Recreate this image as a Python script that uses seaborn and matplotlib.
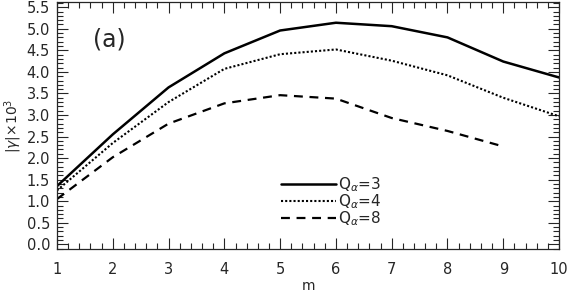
import pandas as pd
import matplotlib
matplotlib.use("Agg")
import matplotlib.pyplot as plt
from matplotlib.ticker import MultipleLocator
import seaborn as sns

# growth rate |gamma| x 10^3 against mode number m
m_vals = [1, 2, 3, 4, 5, 6, 7, 8, 9, 10]
gamma_q3 = [1.35, 2.55, 3.64, 4.43, 4.96, 5.14, 5.06, 4.80, 4.24, 3.87]
gamma_q4 = [1.25, 2.35, 3.30, 4.07, 4.41, 4.52, 4.26, 3.92, 3.40, 2.97]
gamma_q8 = [1.05, 2.02, 2.80, 3.27, 3.46, 3.38, 2.93, 2.63, 2.27]
series_labels = [r"Q$_\alpha$=3", r"Q$_\alpha$=4", r"Q$_\alpha$=8"]

sns.set_style("ticks")
plt.rcParams["font.family"] = ["DejaVu Sans"]

fig = plt.figure(figsize=(5.67, 2.92), dpi=100)
ax = fig.add_axes([0.1005, 0.147, 0.8855, 0.846])

styles = [
    dict(linestyle="-", linewidth=1.8),
    dict(linestyle=(0, (1, 1)), linewidth=1.5),
    dict(linestyle=(0, (4, 3)), linewidth=1.6),
]
for vals, lab, st in zip([gamma_q3, gamma_q4, gamma_q8], series_labels, styles):
    sns.lineplot(x=m_vals[:len(vals)], y=vals, ax=ax, color="black", label=lab, **st)

ax.set_xlim(1, 10)
ax.set_ylim(-0.11, 5.62)
ax.xaxis.set_major_locator(MultipleLocator(1))
ax.xaxis.set_minor_locator(MultipleLocator(0.2))
ax.yaxis.set_major_locator(MultipleLocator(0.5))
ax.yaxis.set_minor_locator(MultipleLocator(0.1))
ax.yaxis.set_major_formatter(plt.FormatStrFormatter("%.1f"))
ax.tick_params(which="both", direction="in", top=True, right=True, labelsize=10.5, width=0.8)
ax.tick_params(which="major", length=8)
ax.tick_params(axis="x", which="major", pad=9)
ax.tick_params(axis="y", which="major", pad=5)
ax.tick_params(which="minor", length=4)
for sp in ax.spines.values():
    sp.set_linewidth(0.9)

ax.set_xlabel("m", fontsize=10, labelpad=2)
ax.set_ylabel(r"|$\gamma$|$\times$10$^3$", fontsize=10, labelpad=2)

ax.text(0.105, 0.85, "(a)", transform=ax.transAxes, fontsize=17,
        ha="center", va="center")

ax.legend(loc="upper left", bbox_to_anchor=(0.43, 0.33), frameon=False,
          fontsize=11, handlelength=3.6, handletextpad=0.15,
          labelspacing=-0.1, borderpad=0)

fig.savefig("out.png", dpi=100)
